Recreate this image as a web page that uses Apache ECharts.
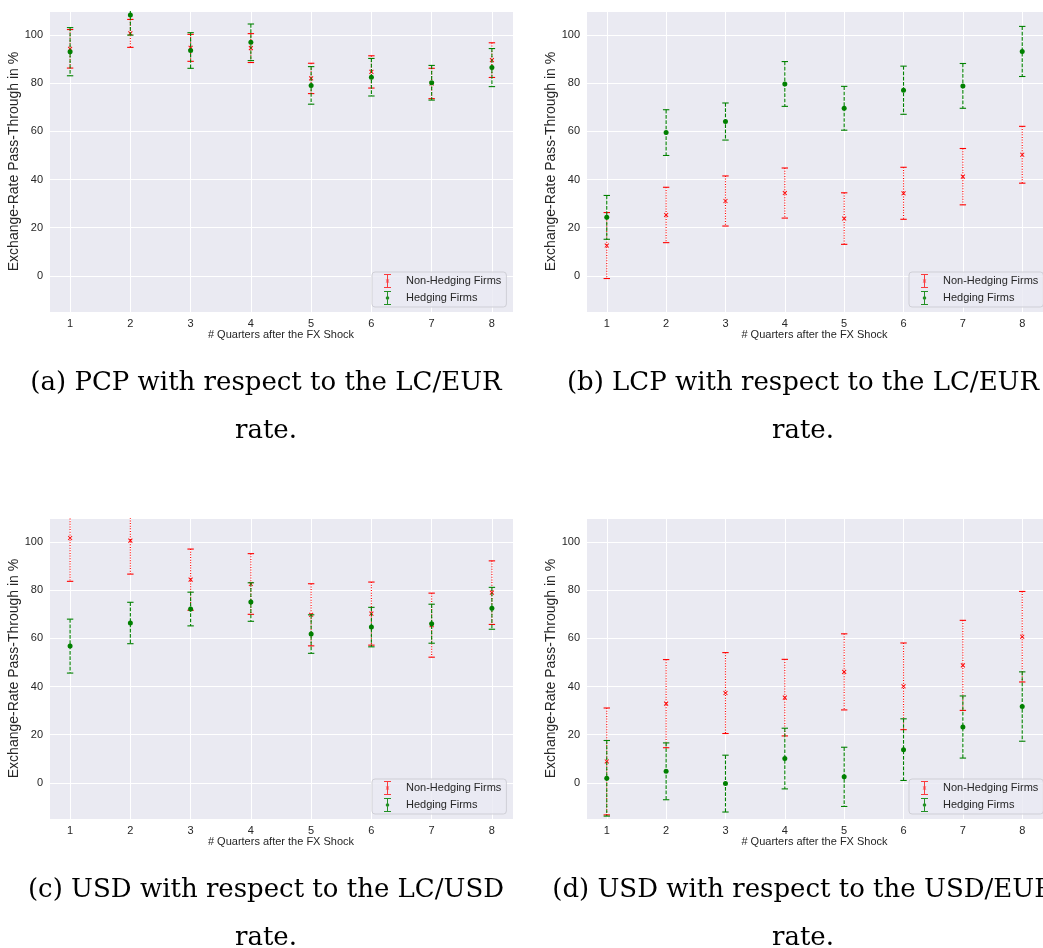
<!DOCTYPE html>
<html>
<head>
<meta charset="utf-8">
<script src="https://cdn.jsdelivr.net/npm/echarts@6/dist/echarts.min.js"></script>
<style>
html,body{margin:0;padding:0;background:#ffffff;}
#chart{width:1043px;height:948px;}
</style>
</head>
<body>
<div id="chart"></div>
<script>
// ---------- DATA ----------
const quarters = [1, 2, 3, 4, 5, 6, 7, 8];
const yTickLabels = [0, 20, 40, 60, 80, 100];
const seriesNames = ['Non-Hedging Firms', 'Hedging Firms'];
const xAxisTitle = '# Quarters after the FX Shock';
const yAxisTitle = 'Exchange-Rate Pass-Through in %';

// (a) PCP with respect to the LC/EUR rate
const aNonHedgeMean = [94.3, 100.7, 94.7, 94.6, 82.0, 84.7, 79.9, 89.6];
const aNonHedgeErr  = [8.0, 5.8, 5.6, 6.0, 6.3, 6.7, 6.3, 7.2];
const aHedgeMean    = [93.1, 108.3, 93.6, 97.0, 79.1, 82.5, 80.2, 86.5];
const aHedgeErr     = [10.0, 8.3, 7.4, 7.6, 7.8, 7.8, 7.2, 7.9];

// (b) LCP with respect to the LC/EUR rate
const bNonHedgeMean = [12.6, 25.3, 31.1, 34.4, 23.8, 34.3, 41.2, 50.3];
const bNonHedgeErr  = [13.7, 11.5, 10.4, 10.4, 10.7, 10.8, 11.7, 11.8];
const bHedgeMean    = [24.3, 59.5, 64.1, 79.7, 69.6, 77.1, 78.9, 93.2];
const bHedgeErr     = [9.1, 9.5, 7.7, 9.3, 9.1, 10.0, 9.3, 10.4];

// (c) USD with respect to the LC/USD rate
const cNonHedgeMean = [101.7, 100.6, 84.4, 82.6, 69.8, 70.3, 65.5, 79.0];
const cNonHedgeErr  = [18.0, 13.9, 12.7, 12.6, 12.9, 13.1, 13.3, 13.2];
const cHedgeMean    = [56.8, 66.4, 72.2, 75.1, 61.8, 64.7, 66.1, 72.5];
const cHedgeErr     = [11.2, 8.6, 7.0, 8.0, 8.0, 8.2, 8.1, 8.7];

// (d) USD with respect to the USD/EUR rate
const dNonHedgeMean = [8.9, 32.9, 37.3, 35.4, 46.1, 40.1, 48.8, 60.7];
const dNonHedgeErr  = [22.2, 18.3, 16.8, 15.9, 15.8, 18.0, 18.7, 18.8];
const dHedgeMean    = [1.9, 4.8, -0.3, 10.1, 2.5, 13.8, 23.2, 31.7];
const dHedgeErr     = [15.7, 11.8, 11.8, 12.6, 12.3, 12.8, 12.9, 14.4];

const captions = [
  '(a) PCP with respect to the LC/EUR\nrate.',
  '(b) LCP with respect to the LC/EUR\nrate.',
  '(c) USD with respect to the LC/USD\nrate.',
  '(d) USD with respect to the USD/EUR\nrate.'
];

// ---------- LAYOUT / STYLE ----------
const panels = [
  {nm: aNonHedgeMean, ne: aNonHedgeErr, hm: aHedgeMean, he: aHedgeErr, left: 49,  top: 11},
  {nm: bNonHedgeMean, ne: bNonHedgeErr, hm: bHedgeMean, he: bHedgeErr, left: 586, top: 11},
  {nm: cNonHedgeMean, ne: cNonHedgeErr, hm: cHedgeMean, he: cHedgeErr, left: 49,  top: 518},
  {nm: dNonHedgeMean, ne: dNonHedgeErr, hm: dHedgeMean, he: dHedgeErr, left: 586, top: 518}
];
const GRID_W = 464, GRID_H = 301;
const RED = '#ff0000', GREEN = '#008000';
const sansFont = 'Liberation Sans, Arial, Helvetica, sans-serif';
const textCol = '#262626';

const xMarker = 'path://M0,1.4L1.4,0L10,8.6L8.6,10Z M8.6,0L10,1.4L1.4,10L0,8.6Z';
const redIcon = 'path://M0,0H7V1H0Z M3,0H4V14H3Z M0,13H7V14H0Z M1.7,5.7L2.2,5.2L5.3,8.3L4.8,8.8Z M4.8,5.2L5.3,5.7L2.2,8.8L1.7,8.3Z';
const greenIcon = 'path://M0,0H7V1H0Z M3,0H4V14H3Z M0,13H7V14H0Z M3.5,5.2A1.8,1.8 0 1 1 3.5,8.8A1.8,1.8 0 1 1 3.5,5.2Z';

function errRender(color, dash) {
  return function (params, api) {
    const x = api.value(0), m = api.value(1), e = api.value(2);
    const top = api.coord([x, m + e]);
    const bot = api.coord([x, m - e]);
    const cw = 3.2;
    return {
      type: 'group',
      children: [
        {type: 'line', shape: {x1: top[0], y1: top[1], x2: bot[0], y2: bot[1]},
          style: {stroke: color, lineWidth: 1.1, lineDash: dash, fill: null}},
        {type: 'line', shape: {x1: top[0] - cw, y1: top[1], x2: top[0] + cw, y2: top[1]},
          style: {stroke: color, lineWidth: 1.1, fill: null}},
        {type: 'line', shape: {x1: bot[0] - cw, y1: bot[1], x2: bot[0] + cw, y2: bot[1]},
          style: {stroke: color, lineWidth: 1.1, fill: null}}
      ]
    };
  };
}

const grids = [], xAxes = [], yAxes = [], series = [], legends = [], titles = [];

panels.forEach((p, i) => {
  grids.push({
    left: p.left, top: p.top, width: GRID_W, height: GRID_H,
    show: true, backgroundColor: '#EAEAF2', borderWidth: 0, containLabel: false
  });
  xAxes.push({
    type: 'value', gridIndex: i, min: 0.65, max: 8.35, splitNumber: 8,
    name: xAxisTitle, nameLocation: 'middle', nameGap: 17,
    nameTextStyle: {fontFamily: sansFont, fontSize: 11, color: textCol},
    axisLine: {show: false}, axisTick: {show: false},
    axisLabel: {
      fontFamily: sansFont, fontSize: 11, color: textCol, margin: 6,
      showMinLabel: false, showMaxLabel: false,
      formatter: v => (quarters.indexOf(Math.round(v * 1000) / 1000) >= 0 ? String(v) : '')
    },
    splitLine: {show: true, lineStyle: {color: '#ffffff', width: 1}}
  });
  yAxes.push({
    type: 'value', gridIndex: i, min: -15, max: 110, splitNumber: 6,
    name: yAxisTitle, nameLocation: 'middle', nameGap: 25, nameRotate: 90,
    nameTextStyle: {fontFamily: sansFont, fontSize: 14, color: textCol},
    axisLine: {show: false}, axisTick: {show: false},
    axisLabel: {
      fontFamily: sansFont, fontSize: 11, color: textCol, margin: 6,
      showMinLabel: false, showMaxLabel: false,
      formatter: v => (yTickLabels.indexOf(Math.round(v * 1000) / 1000) >= 0 ? String(v) : '')
    },
    splitLine: {show: true, lineStyle: {color: '#ffffff', width: 1}}
  });

  const redData = quarters.map((q, j) => [q, p.nm[j], p.ne[j]]);
  const greenData = quarters.map((q, j) => [q, p.hm[j], p.he[j]]);

  series.push({
    type: 'custom', name: seriesNames[0], xAxisIndex: i, yAxisIndex: i,
    renderItem: errRender(RED, [1, 1.65]), data: redData, clip: true, z: 2,
    itemStyle: {color: RED}, silent: true
  });
  series.push({
    type: 'scatter', name: seriesNames[0], xAxisIndex: i, yAxisIndex: i,
    data: redData.map(d => [d[0], d[1]]), symbol: xMarker, symbolSize: 4.6,
    itemStyle: {color: RED, opacity: 1}, clip: true, z: 3, silent: true
  });
  series.push({
    type: 'custom', name: seriesNames[1], xAxisIndex: i, yAxisIndex: i,
    renderItem: errRender(GREEN, [3.7, 1.6]), data: greenData, clip: true, z: 4,
    itemStyle: {color: GREEN}, silent: true
  });
  series.push({
    type: 'scatter', name: seriesNames[1], xAxisIndex: i, yAxisIndex: i,
    data: greenData.map(d => [d[0], d[1]]), symbol: 'circle', symbolSize: 5,
    itemStyle: {color: GREEN, opacity: 1}, clip: true, z: 5, silent: true
  });

  legends.push({
    orient: 'vertical', left: p.left + 323, top: p.top + 261,
    itemWidth: 7, itemHeight: 14, itemGap: 3,
    padding: [2, 5, 2, 12],
    backgroundColor: 'rgba(234,234,242,0.8)', borderColor: '#cfcfd6', borderWidth: 1, borderRadius: 3,
    selectedMode: false,
    textStyle: {fontFamily: sansFont, fontSize: 11, color: textCol, padding: [0, 0, 0, 10]},
    data: [
      {name: seriesNames[0], icon: redIcon, itemStyle: {color: RED, opacity: 0.75}},
      {name: seriesNames[1], icon: greenIcon, itemStyle: {color: GREEN, opacity: 0.85}}
    ]
  });

  titles.push({
    text: captions[i], left: p.left + 217, top: p.top + 348, textAlign: 'center', padding: 0,
    textStyle: {fontFamily: 'DejaVu Serif, Liberation Serif, serif', fontSize: 26, fontWeight: 'normal',
      color: '#000000', lineHeight: 48}
  });
});

const chart = echarts.init(document.getElementById('chart'), null, {renderer: 'canvas'});
chart.setOption({
  animation: false,
  backgroundColor: '#ffffff',
  title: titles,
  legend: legends,
  grid: grids,
  xAxis: xAxes,
  yAxis: yAxes,
  series: series
});
</script>
</body>
</html>
